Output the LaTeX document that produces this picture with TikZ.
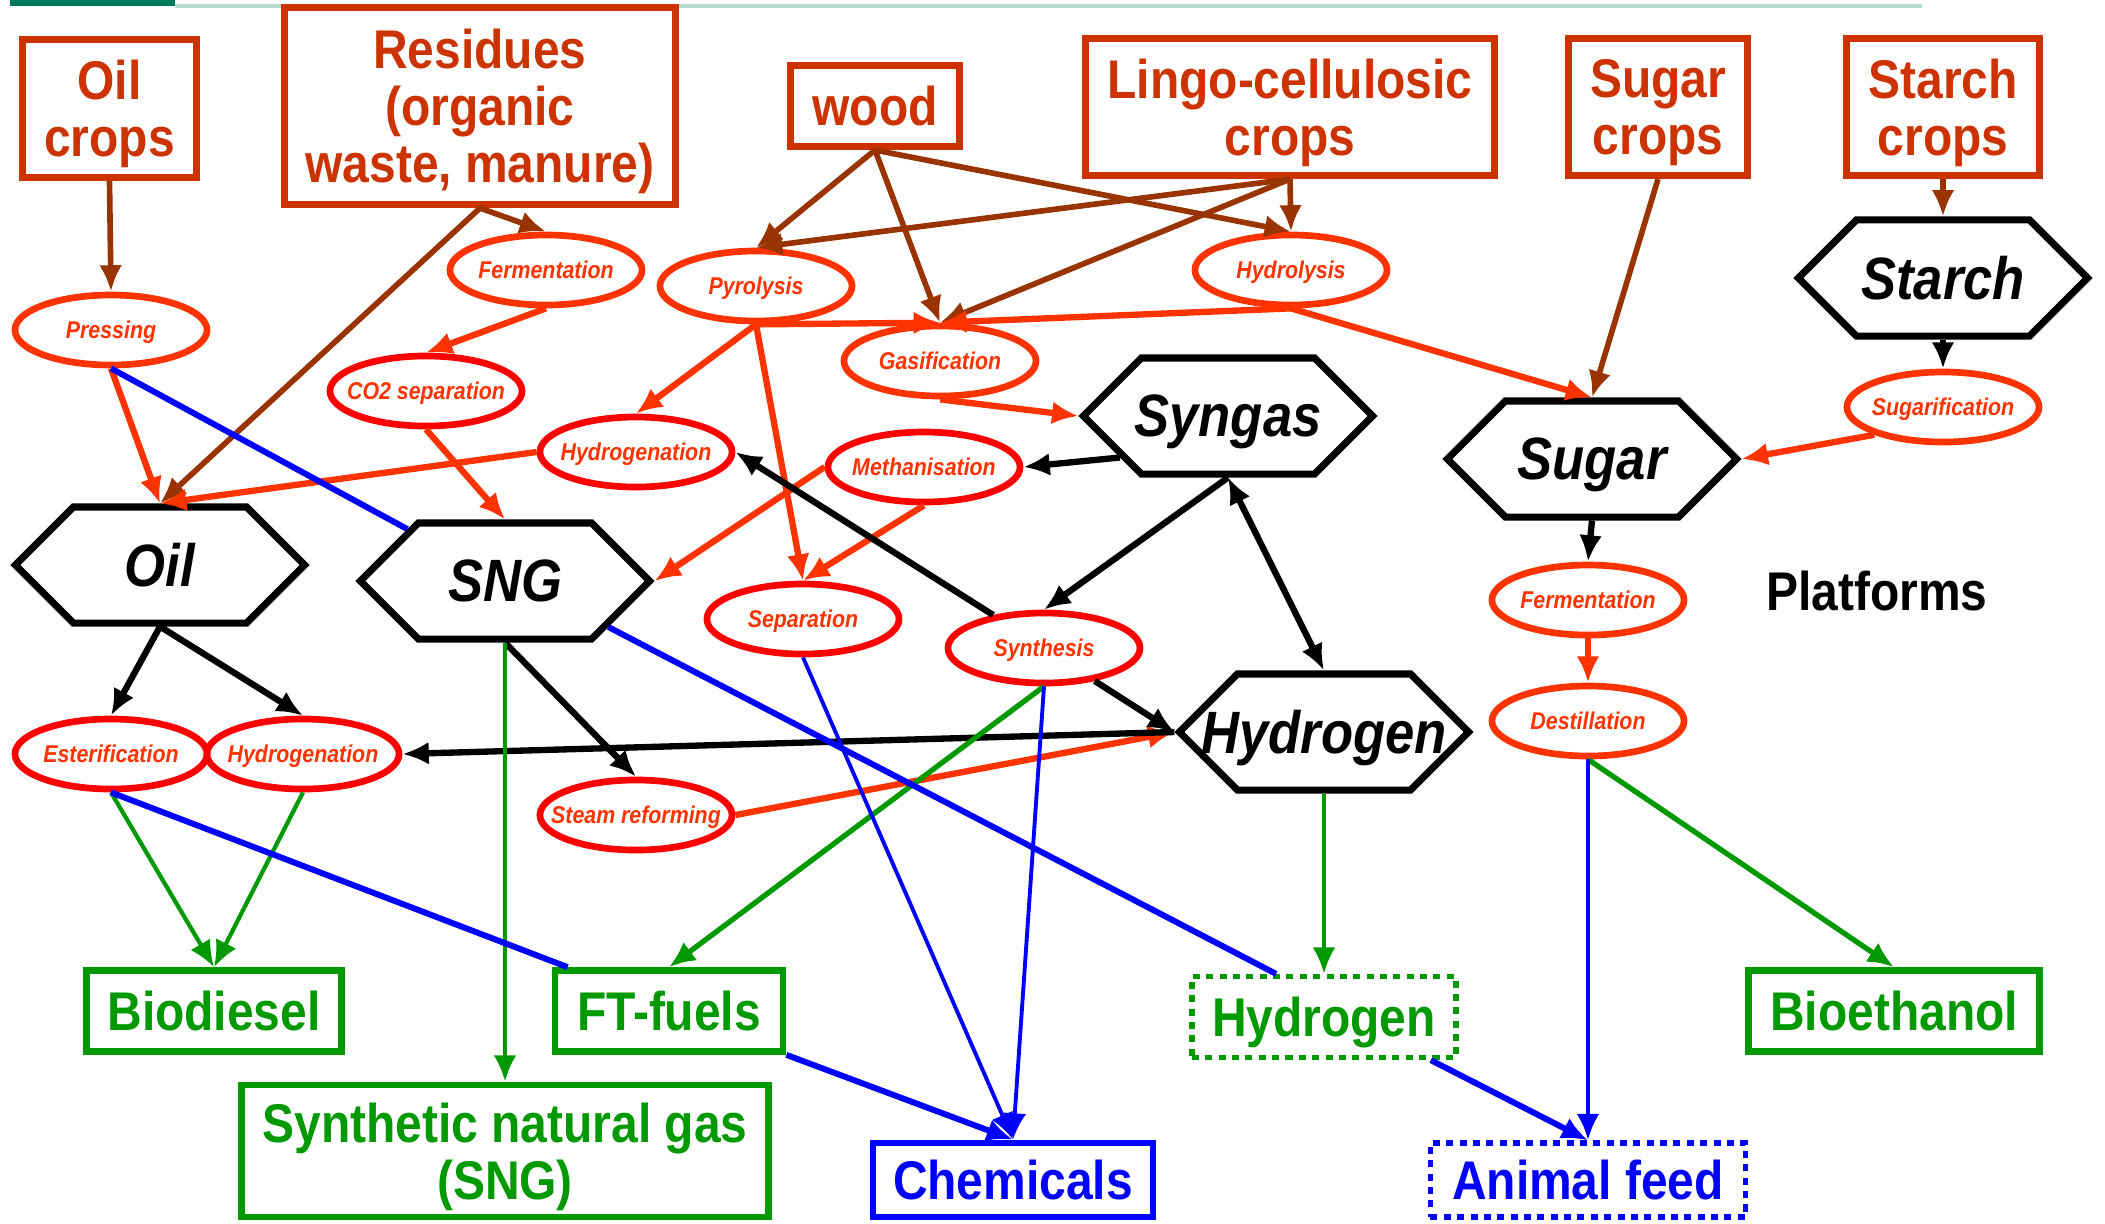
\documentclass[tikz,border=0pt]{standalone}
\usepackage{fontspec}
\setmainfont[FakeStretch=0.88]{Liberation Sans}
\usepackage{tikz}
\usetikzlibrary{arrows.meta,shapes.geometric,shapes.symbols}

\definecolor{rustbox}{HTML}{CC3300}
\definecolor{rustline}{HTML}{993300}
\definecolor{flame}{HTML}{FF3300}
\definecolor{procred}{HTML}{FF0000}
\definecolor{leaf}{HTML}{009900}
\definecolor{chemblue}{HTML}{0000FF}
\definecolor{slidebar}{HTML}{007A5A}
\definecolor{slideline}{HTML}{B7DDD3}

\newcommand{\bigtext}{\bfseries\fontsize{15.5}{16.2}\selectfont}

\tikzset{
  source/.style={draw=rustbox, line width=2pt, text=rustbox, font=\bigtext,
    align=center, inner sep=0pt, text depth=0pt},
  process/.style={ellipse, draw=flame, line width=1.9pt, text=flame,
    font=\bfseries\itshape\fontsize{6.9}{8}\selectfont,
    minimum width=1.92cm, minimum height=0.70cm,
    inner xsep=-4mm, inner ysep=-1mm, text depth=0pt},
  redprocess/.style={process, draw=procred},
  platform/.style={signal, signal to=east and west, draw, line width=2pt,
    font=\bfseries\itshape\fontsize{17}{20}\selectfont,
    minimum width=2.89cm, minimum height=1.16cm,
    inner xsep=-1cm, inner ysep=0pt, text depth=0pt},
  product/.style={draw=leaf, line width=1.9pt, text=leaf, font=\bigtext,
    align=center, inner sep=0pt, text depth=0pt, minimum height=0.81cm},
  chemproduct/.style={product, draw=chemblue, text=chemblue},
  dottedbox/.style={line width=1.5pt, dash pattern=on 2pt off 1.8pt},
  rawflow/.style={->, draw=rustline, line width=1.6pt},
  procflow/.style={->, draw=flame, line width=1.8pt},
  platflow/.style={->, draw=black, line width=1.8pt},
  fuelflow/.style={->, draw=leaf, line width=1.2pt},
  chemline/.style={draw=chemblue, line width=1.7pt},
  chemflow/.style={->, draw=chemblue, line width=1.4pt}
}

\begin{document}
\begin{tikzpicture}[x=0.01cm, y=-0.01cm, >={Latex[length=7.5pt,width=6.5pt]}]
\useasboundingbox (0,0) rectangle (2105,1223);

% slide header
\fill[slidebar] (10,0) rectangle (175,6);
\fill[slideline] (175,4) rectangle (1922,8);

% raw materials
\node[source, minimum width=1.74cm, minimum height=1.38cm] (oilcrops) at (109.5,108.5) {Oil\\crops};
\node[source, minimum width=3.91cm, minimum height=1.97cm] (residues) at (480,106) {Residues\\(organic\\waste, manure)};
\node[source, minimum width=1.68cm, minimum height=0.81cm] (wood) at (875,106) {wood};
\node[source, minimum width=4.08cm, minimum height=1.37cm] (lingo) at (1290,107) {Lingo-cellulosic\\crops};
\node[source, minimum width=1.79cm, minimum height=1.37cm] (sugarcrops) at (1658,107) {Sugar\\crops};
\node[source, minimum width=1.92cm, minimum height=1.37cm] (starchcrops) at (1943,107) {Starch\\crops};

% processes
\node[process] (pressing) at (111,330) {Pressing};
\node[process] (fermA) at (546,270) {Fermentation};
\node[redprocess] (co2sep) at (426,391) {CO2 separation};
\node[process] (pyrolysis) at (756,286) {Pyrolysis};
\node[process] (gasif) at (940,361) {Gasification};
\node[process] (hydrolysis) at (1291,270) {Hydrolysis};
\node[redprocess] (hydrogA) at (636,452) {Hydrogenation};
\node[redprocess] (methan) at (924,467) {Methanisation};
\node[redprocess] (separ) at (803,619) {Separation};
\node[redprocess] (synth) at (1044,648) {Synthesis};
\node[redprocess] (ester) at (111,754) {Esterification};
\node[redprocess] (hydrogB) at (303,754) {Hydrogenation};
\node[redprocess] (steamref) at (636,815) {Steam reforming};
\node[process] (sugarif) at (1943,407) {Sugarification};
\node[process] (fermB) at (1588,600) {Fermentation};
\node[process] (destill) at (1588,721) {Destillation};

% platforms
\node[platform] (starch) at (1943,278) {Starch};
\node[platform] (syngas) at (1228,416) {Syngas};
\node[platform] (sugar) at (1592,459) {Sugar};
\node[platform] (oil) at (160,565) {Oil};
\node[platform] (sng) at (505,581) {SNG};
\node[platform] (hydrogen) at (1324,732) {Hydrogen};
\node[font=\bigtext] (platforms) at (1877,591) {Platforms};

% products
\node[product, minimum width=2.55cm] (biodiesel) at (214,1011) {Biodiesel};
\node[product, minimum width=2.28cm] (ftfuels) at (669,1011) {FT-fuels};
\node[product, minimum width=5.27cm, minimum height=1.32cm] (sngbox) at (505,1151) {Synthetic natural gas\\(SNG)};
\node[chemproduct, minimum width=2.80cm, minimum height=0.74cm] (chemicals) at (1013,1180) {Chemicals};
\node[product, dottedbox, minimum width=2.64cm] (hydrobox) at (1324,1017) {Hydrogen};
\node[chemproduct, dottedbox, minimum width=3.15cm, minimum height=0.74cm] (feed) at (1588,1180) {Animal feed};
\node[product, minimum width=2.91cm] (bioethanol) at (1894,1011) {Bioethanol};

% raw material routes
\draw[rawflow] (oilcrops.south) -- (pressing.north);
\draw[rawflow] (residues.south) -- (fermA.north);
\draw[rawflow] (residues.south) -- (oil.north);
\foreach \target in {pyrolysis,gasif,hydrolysis}{
  \draw[rawflow] (wood.south) -- (\target.north);
  \draw[rawflow] (lingo.south) -- (\target.north);
}
\draw[rawflow] (sugarcrops.south) -- (sugar.north);
\draw[rawflow] (starchcrops.south) -- (starch.north);

% conversion steps
\draw[procflow] (fermA.south) -- (co2sep.north);
\draw[procflow] (pressing.south) -- (oil.north);
\draw[procflow] (co2sep.south) -- (sng.north);
\draw[procflow] (hydrogA.west) -- (oil.north);
\draw[procflow] (pyrolysis.south) -- (hydrogA.north);
\draw[procflow] (pyrolysis.south) -- (separ.north);
\draw[procflow] (pyrolysis.south) -- (gasif.north);
\draw[procflow] (hydrolysis.south) -- (gasif.north);
\draw[procflow] (hydrolysis.south) -- (sugar.north);
\draw[procflow] (gasif.south) -- (syngas.west);
\draw[procflow] (methan.west) -- (sng.east);
\draw[procflow] (methan.south) -- (separ.north);
\draw[procflow] (sugarif.202) -- (sugar.east);
\draw[procflow] (fermB.south) -- (destill.north);
\draw[procflow] (steamref.east) -- (hydrogen.west);

% platform links
\draw[platflow] (starch.south) -- (sugarif.north);
\draw[platflow] (sugar.south) -- (fermB.north);
\draw[platflow] (syngas.201) -- (methan.east);
\draw[platflow] (syngas.south) -- (synth.north);
\draw[platflow, <->] (syngas.south) -- (hydrogen.north);
\draw[platflow] (synth.147) -- (hydrogA.east);
\draw[platflow] (synth.-33) -- (hydrogen.west);
\draw[platflow] (hydrogen.west) -- (hydrogB.east);
\draw[platflow] (oil.south) -- (ester.north);
\draw[platflow] (oil.south) -- (hydrogB.north);
\draw[platflow] (sng.south) -- (steamref.north);

% fuels
\draw[fuelflow] (ester.south) -- (biodiesel.north);
\draw[fuelflow] (hydrogB.south) -- (biodiesel.north);
\draw[fuelflow] (sng.south) -- (sngbox.north);
\draw[fuelflow, line width=1.5pt] (synth.south) -- (ftfuels.north);
\draw[fuelflow] (hydrogen.south) -- (hydrobox.north);
\draw[fuelflow, line width=1.5pt] (destill.south) -- (bioethanol.north);

% chemicals and feed
\draw[chemline] (pressing.south) -- (sng.152);
\draw[chemline] (ester.south) -- ([xshift=0.16cm]ftfuels.north west);
\draw[chemline] (sng.-24) -- (hydrobox.138);
\draw[chemflow, line width=1.1pt] (separ.south) -- (chemicals.north);
\draw[chemflow, line width=1.1pt] (synth.south) -- (chemicals.north);
\draw[chemflow, line width=1.7pt] (ftfuels.south east) -- (chemicals.north);
\draw[chemflow, line width=1.7pt] (hydrobox.-22) -- (feed.north);
\draw[chemflow] (destill.south) -- (feed.north);

\end{tikzpicture}
\end{document}
